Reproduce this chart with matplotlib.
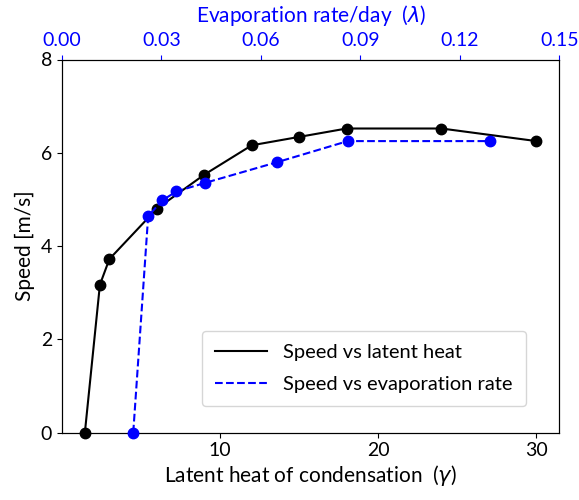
import matplotlib
matplotlib.use("Agg")
import matplotlib.pyplot as plt
from matplotlib.lines import Line2D

plt.rcParams['font.family'] = ['Lato', 'DejaVu Sans']

# speed vs latent heat of condensation
gamma = [1.45, 2.4, 3, 6, 9, 12, 15, 18, 24, 30]
speed_gamma = [0, 3.17, 3.72, 4.8, 5.53, 6.16, 6.34, 6.52, 6.52, 6.25]

# speed vs evaporation rate
lam = [0.0215, 0.026, 0.0303, 0.0345, 0.043, 0.065, 0.0862, 0.129]
speed_lam = [0, 4.64, 4.98, 5.17, 5.35, 5.8, 6.25, 6.25]

fig, ax = plt.subplots(figsize=(5.79, 5.0), dpi=100)
fig.subplots_adjust(left=0.107, right=0.966, top=0.881, bottom=0.135)

ax.plot(gamma, speed_gamma, "-o", color="black", lw=1.5, ms=7.5, clip_on=False, zorder=3)
ax.set_xlim(0, 31.45)
ax.set_ylim(0, 8)
ax.set_xticks([10, 20, 30])
ax.set_yticks([0, 2, 4, 6, 8])
ax.set_xlabel(r"Latent heat of condensation  ($\gamma$)", fontsize=15, labelpad=3)
ax.set_ylabel("Speed [m/s]", fontsize=15)
ax.tick_params(labelsize=14)

ax2 = ax.twiny()
ax2.plot(lam, speed_lam, "--o", color="blue", lw=1.5, ms=7.5, clip_on=False, zorder=3)
ax2.set_xlim(0, 0.15)
ax2.set_xticks([0.0, 0.03, 0.06, 0.09, 0.12, 0.15])
ax2.set_xticklabels(["0.00", "0.03", "0.06", "0.09", "0.12", "0.15"])
ax2.set_xlabel(r"Evaporation rate/day  ($\lambda$)", fontsize=15, color="blue", labelpad=7)
ax2.tick_params(axis="x", colors="blue", labelsize=14, pad=4)

handles = [Line2D([], [], color="black", lw=1.5),
           Line2D([], [], color="blue", lw=1.5, ls="--")]
ax.legend(handles, ["Speed vs latent heat", "Speed vs evaporation rate"],
          loc="lower right", bbox_to_anchor=(0.933, 0.0705), borderaxespad=0,
          fontsize=14.5, handlelength=2.6, labelspacing=0.75, borderpad=0.65)

fig.savefig("out.png", dpi=100)
